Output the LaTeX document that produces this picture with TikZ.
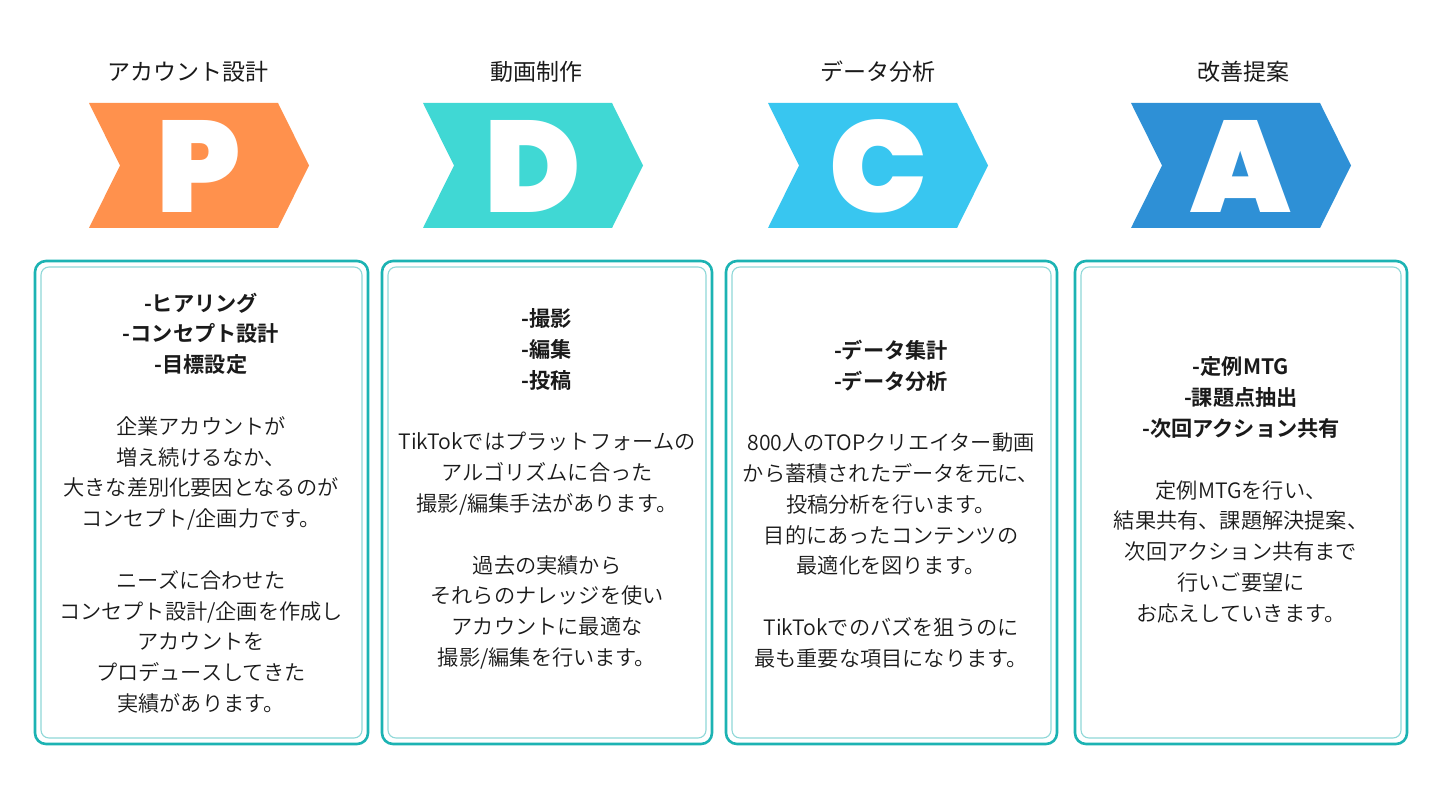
\documentclass[tikz,border=0pt]{standalone}
\usepackage{fontspec}
\setmainfont{Noto Sans CJK JP}
\IfFontExistsTF{Noto Sans CJK JP DemiLight}{\newfontfamily\bodyfont{Noto Sans CJK JP DemiLight}[BoldFont=Noto Sans CJK JP Bold]}{\newfontfamily\bodyfont{Noto Sans CJK JP}}
\IfFontExistsTF{Poppins Black}{\newfontfamily\letterfont{Poppins Black}}{\newfontfamily\letterfont{Poppins}[FakeBold=2]}
\definecolor{cP}{HTML}{FF914D}
\definecolor{cD}{HTML}{40D8D4}
\definecolor{cC}{HTML}{38C6F0}
\definecolor{cA}{HTML}{2E90D6}
\definecolor{boxteal}{HTML}{1CB3B3}
\definecolor{boxlight}{HTML}{8FD8D8}
\definecolor{txt}{HTML}{1A1A1A}
\tikzset{
  title/.style={font=\fontsize{23}{28}\selectfont, text=txt, inner sep=0pt},
  letter/.style={font=\letterfont\fontsize{130}{130}\selectfont, text=white, inner sep=0pt},
  body/.style={font=\bodyfont\fontsize{21.2}{30.8}\selectfont, text=txt, align=center, inner sep=0pt},
  outerbox/.style={draw=boxteal, line width=2.6pt, rounded corners=11pt, fill=white},
  innerbox/.style={draw=boxlight, line width=1.1pt, rounded corners=8pt},
}
\newcommand{\chev}[3]{%
  \fill[#2] (#1,103) -- ({#1+189},103) -- ({#1+220},165.5) -- ({#1+189},228) -- (#1,228) -- ({#1+31},165.5) -- cycle;
  \node[letter] (#3) at ({#1+110},166) {#3};
}
\newcommand{\pbox}[2]{%
  \draw[outerbox] (#1,261) rectangle (#2,744);
  \draw[innerbox] ({#1+6},267) rectangle ({#2-6},738);
}
\begin{document}
\begin{tikzpicture}[x=1pt,y=-1pt]
\useasboundingbox[fill=white] (0,0) rectangle (1440,810);
% titles
\node[title] (tP) at (188,72) {アカウント設計};
\node[title] (tD) at (536,72) {動画制作};
\node[title] (tC) at (878,72) {データ分析};
\node[title] (tA) at (1243,72) {改善提案};
% chevrons
\chev{89}{cP}{P}
\chev{423}{cD}{D}
\chev{768}{cC}{C}
\chev{1131}{cA}{A}
% boxes
\pbox{35}{368}
\pbox{382}{712}
\pbox{726}{1057}
\pbox{1075}{1407}
% texts
\node[body] (bP) at (201,503) {{\bfseries -ヒアリング}\\{\bfseries -コンセプト設計}\\{\bfseries -目標設定}\\\mbox{}\\
企業アカウントが\\増え続けるなか、\\大きな差別化要因となるのが\\コンセプト/企画力です。\\\mbox{}\\
ニーズに合わせた\\コンセプト設計/企画を作成し\\アカウントを\\プロデュースしてきた\\実績があります。};
\node[body] (bD) at (547,489) {{\bfseries -撮影}\\{\bfseries -編集}\\{\bfseries -投稿}\\\mbox{}\\
TikTokではプラットフォームの\\アルゴリズムに合った\\撮影/編集手法があります。\\\mbox{}\\
過去の実績から\\それらのナレッジを使い\\アカウントに最適な\\撮影/編集を行います。};
\node[body] (bC) at (891,504) {{\bfseries -データ集計}\\{\bfseries -データ分析}\\\mbox{}\\
800人のTOPクリエイター動画\\から蓄積されたデータを元に、\\投稿分析を行います。\\目的にあったコンテンツの\\最適化を図ります。\\\mbox{}\\
TikTokでのバズを狙うのに\\最も重要な項目になります。};
\node[body] (bA) at (1241,490) {{\bfseries -定例MTG}\\{\bfseries -課題点抽出}\\{\bfseries -次回アクション共有}\\\mbox{}\\
定例MTGを行い、\\結果共有、課題解決提案、\\次回アクション共有まで\\行いご要望に\\お応えしていきます。};
\end{tikzpicture}
\end{document}
